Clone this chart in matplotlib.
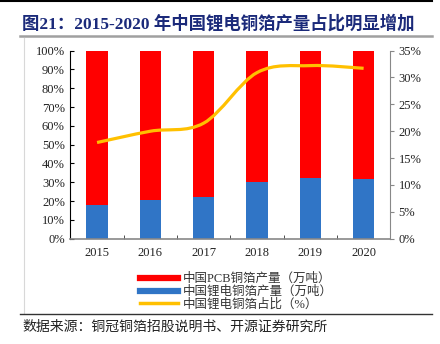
import matplotlib
matplotlib.use("Agg")
import matplotlib.pyplot as plt
from matplotlib.path import Path
from matplotlib.patches import PathPatch
from matplotlib.lines import Line2D
import numpy as np

plt.rcParams['font.family'] = ['Liberation Serif', 'Noto Sans CJK SC']

# data
years = ['2015', '2016', '2017', '2018', '2019', '2020']
li_share = [17.8, 20.4, 22.2, 30.3, 32.3, 31.9]        # 中国锂电铜箔产量 share of bar, %
pcb_share = [100 - v for v in li_share]                  # 中国PCB铜箔产量 share of bar, %
li_ratio = [17.9, 20.0, 21.5, 30.9, 32.2, 31.7]          # 中国锂电铜箔占比, %

left_ticks = list(range(0, 101, 10))
right_ticks = list(range(0, 36, 5))

RED = '#FF0000'
BLUE = '#3075C6'
GOLD = '#FFC000'


def smooth_path(xs, ys):
    ''' Catmull-Rom style bezier through the points (like Excel smoothed line) '''
    pts = np.column_stack([xs, ys]).astype(float)
    verts = [pts[0]]
    codes = [Path.MOVETO]
    n = len(pts)
    for i in range(n - 1):
        p0 = pts[i - 1] if i > 0 else pts[i]
        p1 = pts[i]
        p2 = pts[i + 1]
        p3 = pts[i + 2] if i + 2 < n else pts[i + 1]
        c1 = p1 + (p2 - p0) / 6
        c2 = p2 - (p3 - p1) / 6
        verts += [c1, c2, p2]
        codes += [Path.CURVE4] * 3
    return Path(verts, codes)


fig = plt.figure(figsize=(4.4, 3.44), dpi=100)
ax = fig.add_axes([0.16, 0.306, 0.727, 0.547])

x = np.arange(len(years))
ax.bar(x, li_share, width=0.4, color=BLUE, zorder=2)
ax.bar(x, pcb_share, width=0.4, bottom=li_share, color=RED, zorder=2)

ax.set_xlim(-0.5, len(years) - 0.5)
ax.set_ylim(0, 100)
ax.set_yticks(left_ticks)
ax.set_yticklabels([f'{t}%' for t in left_ticks], fontsize=9, color='#222222')
ax.set_xticks(x)
ax.set_xticklabels(years, fontsize=9, color='#222222')
ax.set_xticks(np.arange(0.5, len(years) - 1, 1), minor=True)
ax.tick_params(axis='x', which='major', length=0, pad=6)
ax.tick_params(axis='x', which='minor', direction='in', length=3, color='#333333')
ax.tick_params(axis='y', direction='in', length=3, color='#000000', pad=4)
ax.spines['top'].set_visible(False)
ax.spines['right'].set_visible(False)
ax.spines['left'].set_color('#000000')
ax.spines['bottom'].set_color('#888888')
ax.spines['bottom'].set_linewidth(1.2)

ax2 = ax.twinx()
ax2.set_ylim(0, 35)
ax2.set_yticks(right_ticks)
ax2.set_yticklabels([f'{t}%' for t in right_ticks], fontsize=9, color='#222222')
ax2.tick_params(axis='y', direction='out', length=3, color='#888888', pad=3)
for s in ['top', 'left', 'bottom']:
    ax2.spines[s].set_visible(False)
ax2.spines['right'].set_color('#888888')
ax2.add_patch(PathPatch(smooth_path(x, li_ratio), fill=False, edgecolor=GOLD,
                        linewidth=2.3, capstyle='butt', zorder=3))

handles = [Line2D([], [], color=RED, lw=4.5),
           Line2D([], [], color=BLUE, lw=4.5),
           Line2D([], [], color=GOLD, lw=2.5)]
labels = ['中国PCB铜箔产量（万吨）', '中国锂电铜箔产量（万吨）', '中国锂电铜箔占比（%）']
fig.legend(handles, labels, loc='upper left', bbox_to_anchor=(0.305, 0.225),
           frameon=False, fontsize=9, handlelength=3.0, handletextpad=0.4,
           labelspacing=0.05, borderpad=0, labelcolor='#333333')

# page decorations
fig.add_artist(Line2D([0.0, 0.982], [0.997, 0.997], color='#000000', lw=1.5))
fig.text(0.05, 0.932, '图21：2015-2020 年中国锂电铜箔产量占比明显增加', fontsize=12.5,
         fontweight='bold', color='#1B2A7A', va='center', ha='left')
fig.add_artist(Line2D([0.045, 0.982], [0.895, 0.895], color='#A0A0A0', lw=1.8))
fig.add_artist(Line2D([0.055, 0.055], [0.09, 0.89], color='#D8D8D8', lw=0.8))
fig.add_artist(Line2D([0.045, 0.982], [0.087, 0.087], color='#333333', lw=1.0))
fig.text(0.05, 0.048, '数据来源：铜冠铜箔招股说明书、开源证券研究所', fontsize=10,
         color='#222222', va='center', ha='left')

fig.savefig('out.png', dpi=100)
